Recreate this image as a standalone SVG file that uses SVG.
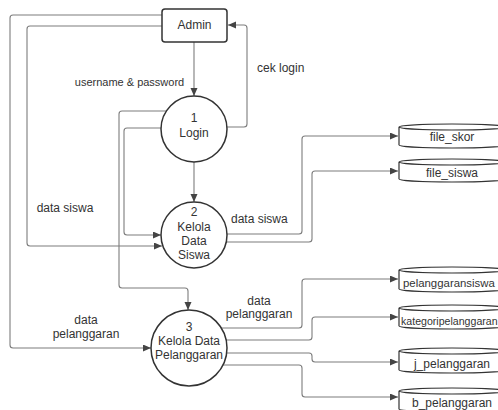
<svg xmlns="http://www.w3.org/2000/svg" width="498" height="410" viewBox="0 0 498 410">
<style>
text{font-family:"Liberation Sans",Arial,sans-serif;font-size:12px;fill:#333}
.c{text-anchor:middle}
.node{fill:#fff;stroke:#333;stroke-width:1.5}
.store{fill:#fff;stroke:#333;stroke-width:1.2}
.conn path{fill:none;stroke:#7d7d7d;stroke-width:1.1;marker-end:url(#ah)}
</style>
<defs>
<marker id="ah" markerUnits="userSpaceOnUse" markerWidth="9" markerHeight="8" refX="8" refY="3.5" orient="auto">
<path d="M0,0 L8,3.5 L0,7 z" fill="#444"/>
</marker>
</defs>
<rect width="498" height="410" fill="#fff"/>
<g class="conn" id="connectors">
<path d="M194,42 V96"/>
<path d="M227,127 H244 Q247,127 247,124 V28 Q247,25 244,25 H228"/>
<path d="M162,15 H13 Q10,15 10,18 V345 Q10,348 13,348 H151"/>
<path d="M162,26 H30 Q27,26 27,29 V243 Q27,246 30,246 H162"/>
<path d="M166,111 H122 Q119,111 119,114 V285 Q119,288 122,288 H185 Q188,288 188,291 V310"/>
<path d="M161,128 H127 Q124,128 124,131 V232 Q124,235 127,235 H161"/>
<path d="M194,162 V202"/>
<path d="M227,234 H299 Q302,234 302,231 V139 Q302,136 305,136 H398"/>
<path d="M226,242 H309 Q312,242 312,239 V174 Q312,171 315,171 H398"/>
<path d="M221,328 H299 Q302,328 302,325 V282 Q302,279 305,279 H398"/>
<path d="M226,340 H309 Q312,340 312,337 V320 Q312,317 315,317 H398"/>
<path d="M227,353 H309 Q312,353 312,356 V359 Q312,362 315,362 H398"/>
<path d="M223,365 H299 Q302,365 302,368 V394 Q302,397 305,397 H398"/>
</g>
<g id="labels">
<text class="c" x="129.5" y="86" style="font-size:11px">username &amp; password</text>
<text x="257" y="72">cek login</text>
<text class="c" x="65" y="212">data siswa</text>
<text x="231" y="223">data siswa</text>
<text class="c" x="86" y="324">data</text>
<text class="c" x="86" y="338">pelanggaran</text>
<text class="c" x="259" y="305">data</text>
<text class="c" x="259" y="318">pelanggaran</text>
</g>
<g id="admin">
<rect class="node" x="162" y="9" width="65" height="33" rx="3"/>
<text class="c" x="194.5" y="29">Admin</text>
</g>
<g id="p1">
<circle class="node" cx="194" cy="129" r="33"/>
<text class="c" x="194" y="122">1</text>
<text class="c" x="194" y="137">Login</text>
</g>
<g id="p2">
<circle class="node" cx="194" cy="235" r="33"/>
<text class="c" x="194" y="216">2</text>
<text class="c" x="194" y="231">Kelola</text>
<text class="c" x="194" y="245">Data</text>
<text class="c" x="194" y="259">Siswa</text>
</g>
<g id="p3">
<circle class="node" cx="189" cy="348" r="38"/>
<text class="c" x="189" y="331">3</text>
<text class="c" x="189" y="345">Kelola Data</text>
<text class="c" x="189" y="359">Pelanggaran</text>
</g>
<g id="file_skor">
<path class="store" d="M399,127 A53,3 0 0 1 505,127 V145 A53,3 0 0 1 399,145 Z M399,127 A53,3 0 0 0 505,127"/>
<text class="c" x="452" y="141">file_skor</text>
</g>
<g id="file_siswa">
<path class="store" d="M399,162 A53,3 0 0 1 505,162 V179 A53,3 0 0 1 399,179 Z M399,162 A53,3 0 0 0 505,162"/>
<text class="c" x="452" y="177">file_siswa</text>
</g>
<g id="pelanggaransiswa">
<path class="store" d="M399,270 A53,3 0 0 1 505,270 V289 A53,3 0 0 1 399,289 Z M399,270 A53,3 0 0 0 505,270"/>
<text x="403" y="287" style="font-size:11.4px">pelanggaransiswa</text>
</g>
<g id="kategoripelanggaran">
<path class="store" d="M399,308 A53,3 0 0 1 505,308 V326 A53,3 0 0 1 399,326 Z M399,308 A53,3 0 0 0 505,308"/>
<text x="401" y="325" style="font-size:10.6px">kategoripelanggaran</text>
</g>
<g id="j_pelanggaran">
<path class="store" d="M399,351 A53,3 0 0 1 505,351 V370 A53,3 0 0 1 399,370 Z M399,351 A53,3 0 0 0 505,351"/>
<text class="c" x="452" y="368">j_pelanggaran</text>
</g>
<g id="b_pelanggaran">
<path class="store" d="M399,391 A53,3 0 0 1 505,391 V409 A53,3 0 0 1 399,409 Z M399,391 A53,3 0 0 0 505,391"/>
<text class="c" x="452" y="407">b_pelanggaran</text>
</g>
</svg>
